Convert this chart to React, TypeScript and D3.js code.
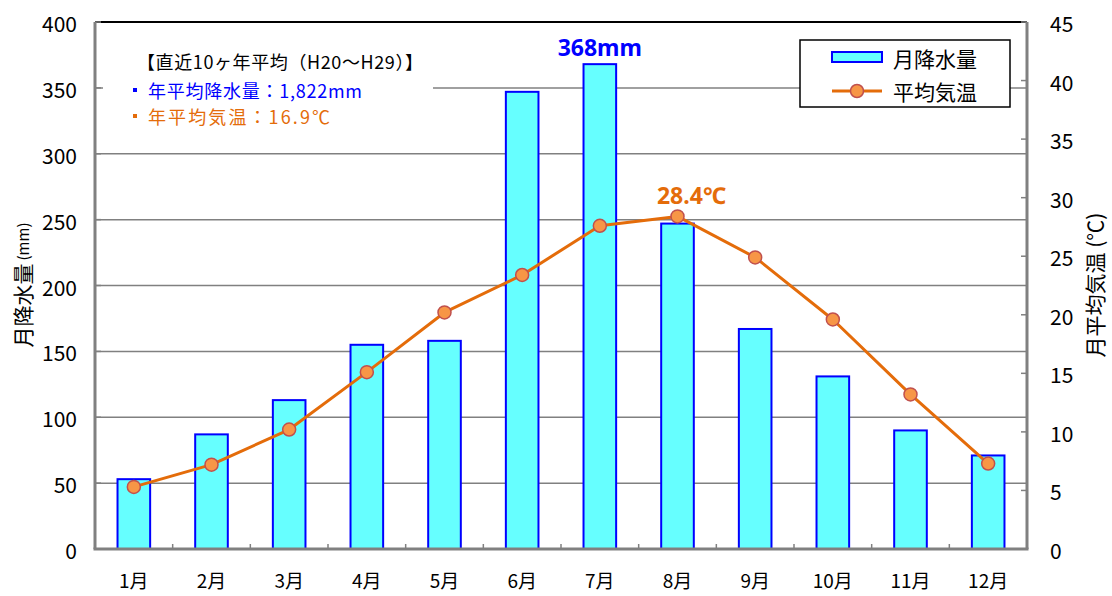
import React from "react";
import * as d3 from "d3";

const months = ["1月", "2月", "3月", "4月", "5月", "6月", "7月", "8月", "9月", "10月", "11月", "12月"];
const rainfall = [53, 87, 113, 155, 158, 347, 368, 247, 167, 131, 90, 71];
const temperature = [5.3, 7.2, 10.2, 15.1, 20.2, 23.4, 27.6, 28.4, 24.9, 19.6, 13.2, 7.3];
const leftTicks = [0, 50, 100, 150, 200, 250, 300, 350, 400];
const rightTicks = [0, 5, 10, 15, 20, 25, 30, 35, 40, 45];
const seriesNames = ["月降水量", "平均気温"];
const noteTitle = "【直近10ヶ年平均（H20～H29）】";
const noteRain = "年平均降水量：1,822mm";
const noteTemp = "年平均気温：16.9℃";
const maxRainLabel = "368mm";
const maxTempLabel = "28.4℃";

const W = 1112;
const H = 596;
const L = 95;
const R = 1027;
const T = 22;
const B = 549;
const FONT = "'Noto Sans CJK JP', 'Noto Sans', sans-serif";
const AXIS_GRAY = "#808080";
const ORANGE = "#E46C0A";

export default function App() {
  const x = d3.scaleBand<string>().domain(months).range([L, R]).padding(0);
  const yL = d3.scaleLinear().domain([0, 400]).range([B, T]);
  const yR = d3.scaleLinear().domain([0, 45]).range([B, T]);
  const bw = x.bandwidth() * 0.42;
  const cx = (m: string) => (x(m) as number) + x.bandwidth() / 2;

  const line = d3
    .line<number>()
    .x((_, i) => cx(months[i]))
    .y((d) => yR(d))
    .curve(d3.curveLinear);

  const maxRainIdx = rainfall.indexOf(d3.max(rainfall) as number);
  const maxTempIdx = temperature.indexOf(d3.max(temperature) as number);

  return (
    <svg
      width={W}
      height={H}
      style={{ position: "absolute", left: 0, top: 0, display: "block", background: "#fff" }}
      fontFamily={FONT}
    >
      <rect x={0} y={0} width={W} height={H} fill="#fff" />
      {/* gridlines */}
      {leftTicks
        .filter((t) => t > 0 && t < 400)
        .map((t) => (
          <line key={"g" + t} x1={L} x2={R} y1={yL(t)} y2={yL(t)} stroke={AXIS_GRAY} strokeWidth={1.5} />
        ))}
      {/* top border */}
      <line x1={L} x2={R} y1={T} y2={T} stroke="#000" strokeWidth={2} />

      {/* annotation box background */}
      <rect x={103} y={40} width={330} height={88} fill="#fff" />
      <text x={137} y={61} dominantBaseline="central" fontSize={18} fill="#000" textLength={286} lengthAdjust="spacing">
        {noteTitle}
      </text>
      <rect x={133} y={88} width={4} height={4} fill="#0000FF" />
      <text x={148} y={90} dominantBaseline="central" fontSize={18} fill="#0000FF" textLength={214} lengthAdjust="spacing">
        {noteRain}
      </text>
      <rect x={133} y={114} width={4} height={4} fill={ORANGE} />
      <text x={148} y={116} dominantBaseline="central" fontSize={18} fill={ORANGE} textLength={182} lengthAdjust="spacing">
        {noteTemp}
      </text>

      {/* bars */}
      {rainfall.map((v, i) => (
        <rect
          key={"b" + i}
          x={cx(months[i]) - bw / 2}
          y={yL(v)}
          width={bw}
          height={B - yL(v)}
          fill="#66FFFF"
          stroke="#0000FF"
          strokeWidth={2}
        />
      ))}

      {/* line */}
      <path d={line(temperature) as string} fill="none" stroke={ORANGE} strokeWidth={3} strokeLinejoin="round" />
      {temperature.map((v, i) => (
        <circle key={"c" + i} cx={cx(months[i])} cy={yR(v)} r={6.5} fill="#F79646" stroke="#C0504D" strokeWidth={1.5} />
      ))}

      {/* axes */}
      <line x1={L} x2={L} y1={T} y2={B} stroke={AXIS_GRAY} strokeWidth={3} />
      <line x1={R} x2={R} y1={T} y2={B} stroke={AXIS_GRAY} strokeWidth={3} />
      <line x1={L - 1.5} x2={R + 1.5} y1={B} y2={B} stroke={AXIS_GRAY} strokeWidth={3} />
      {leftTicks.map((t) => (
        <g key={"lt" + t}>
          <line x1={L} x2={L + 6} y1={yL(t)} y2={yL(t)} stroke={AXIS_GRAY} strokeWidth={1.5} />
          <text x={77} y={yL(t) + 1} textAnchor="end" dominantBaseline="central" fontSize={21} fill="#000">
            {t}
          </text>
        </g>
      ))}
      {rightTicks.map((t) => (
        <g key={"rt" + t}>
          <line x1={R - 6} x2={R} y1={yR(t)} y2={yR(t)} stroke={AXIS_GRAY} strokeWidth={1.5} />
          <text x={1050} y={yR(t) + 1} textAnchor="start" dominantBaseline="central" fontSize={21} fill="#000">
            {t}
          </text>
        </g>
      ))}
      {months.slice(1).map((m) => (
        <line key={"xt" + m} x1={x(m)} x2={x(m)} y1={B} y2={B - 5} stroke={AXIS_GRAY} strokeWidth={1.5} />
      ))}
      {months.map((m) => (
        <text key={"xl" + m} x={cx(m)} y={579} textAnchor="middle" dominantBaseline="central" fontSize={19} fill="#000">
          {m}
        </text>
      ))}

      {/* axis titles */}
      <text transform="translate(22,285) rotate(-90)" textAnchor="middle" dominantBaseline="central" fill="#000">
        <tspan fontSize={21}>月降水量</tspan>
        <tspan fontSize={15} dx={3}>(mm)</tspan>
      </text>
      <text transform="translate(1094,285) rotate(-90)" textAnchor="middle" dominantBaseline="central" fill="#000" fontSize={21}>
        月平均気温 (℃)
      </text>

      {/* value labels */}
      <text
        x={cx(months[maxRainIdx])}
        y={47}
        textAnchor="middle"
        dominantBaseline="central"
        fontSize={23}
        fontWeight="bold"
        fill="#0000FF"
        fontFamily="'Noto Sans', sans-serif"
      >
        {maxRainLabel}
      </text>
      <text
        x={cx(months[maxTempIdx]) + 14}
        y={195}
        textAnchor="middle"
        dominantBaseline="central"
        fontSize={23}
        fontWeight="bold"
        fill={ORANGE}
        fontFamily="'Noto Sans', sans-serif"
      >
        {maxTempLabel}
      </text>

      {/* legend */}
      <rect x={800} y={40} width={210} height={67} fill="#fff" stroke="#000" strokeWidth={1.5} />
      <rect x={832} y={52} width={50} height={10} fill="#66FFFF" stroke="#0000FF" strokeWidth={2} />
      <text x={893} y={58} dominantBaseline="central" fontSize={21} fill="#000">
        {seriesNames[0]}
      </text>
      <line x1={832} x2={882} y1={91} y2={91} stroke={ORANGE} strokeWidth={3} />
      <circle cx={857} cy={91} r={6.5} fill="#F79646" stroke="#C0504D" strokeWidth={1.5} />
      <text x={893} y={91} dominantBaseline="central" fontSize={21} fill="#000">
        {seriesNames[1]}
      </text>
    </svg>
  );
}
